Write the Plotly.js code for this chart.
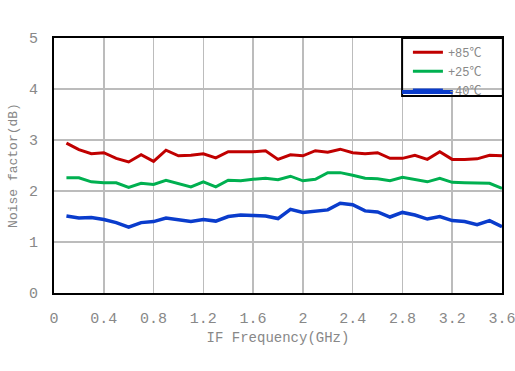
<!DOCTYPE html>
<html>
<head>
<meta charset="utf-8">
<script src="https://cdn.plot.ly/plotly-3.0.1.min.js"></script>
<style>
  html, body { margin: 0; padding: 0; background: #fff; }
  #chart { width: 515px; height: 371px; }
</style>
</head>
<body>
<div id="chart"></div>
<script>
// IF frequency sweep points (GHz)
const freqGHz = [0.1, 0.2, 0.3, 0.4, 0.5, 0.6, 0.7, 0.8, 0.9, 1.0, 1.1, 1.2,
                 1.3, 1.4, 1.5, 1.6, 1.7, 1.8, 1.9, 2.0, 2.1, 2.2, 2.3, 2.4,
                 2.5, 2.6, 2.7, 2.8, 2.9, 3.0, 3.1, 3.2, 3.3, 3.4, 3.5, 3.6];

// Noise factor (dB) at each temperature
const nf85 = [2.94, 2.81, 2.73, 2.75, 2.64, 2.57, 2.71, 2.58, 2.80, 2.69, 2.70, 2.73,
              2.65, 2.77, 2.77, 2.77, 2.79, 2.62, 2.71, 2.69, 2.79, 2.76, 2.82, 2.75,
              2.73, 2.75, 2.64, 2.64, 2.70, 2.62, 2.77, 2.62, 2.62, 2.63, 2.70, 2.69];
const nf25 = [2.26, 2.26, 2.18, 2.16, 2.16, 2.07, 2.15, 2.13, 2.21, 2.15, 2.08, 2.18,
              2.08, 2.21, 2.20, 2.23, 2.25, 2.22, 2.29, 2.20, 2.23, 2.36, 2.36, 2.31,
              2.25, 2.24, 2.20, 2.27, 2.22, 2.18, 2.25, 2.17, 2.16, 2.16, 2.15, 2.05];
const nfM40 = [1.51, 1.47, 1.48, 1.44, 1.38, 1.29, 1.38, 1.40, 1.47, 1.44, 1.40, 1.44,
               1.41, 1.50, 1.53, 1.52, 1.51, 1.46, 1.64, 1.58, 1.60, 1.63, 1.76, 1.73,
               1.61, 1.59, 1.49, 1.58, 1.53, 1.45, 1.50, 1.42, 1.40, 1.34, 1.42, 1.30];

const seriesNames = ['+85℃', '+25℃', '-40℃'];
const xTicks = [0, 0.4, 0.8, 1.2, 1.6, 2, 2.4, 2.8, 3.2, 3.6];
const yTicks = [0, 1, 2, 3, 4, 5];

const FONT = '"Liberation Mono", "Noto Sans CJK SC", monospace';
const GREY = '#888888';
const COLORS = ['#c00000', '#00b050', '#0a3ccc'];

const traces = [
  { x: freqGHz, y: nf85, name: seriesNames[0], mode: 'lines',
    line: { color: COLORS[0], width: 3 } },
  { x: freqGHz, y: nf25, name: seriesNames[1], mode: 'lines',
    line: { color: COLORS[1], width: 3 } },
  { x: freqGHz, y: nfM40, name: seriesNames[2], mode: 'lines',
    line: { color: COLORS[2], width: 3.5 } }
];

const axisCommon = {
  showline: true, linecolor: '#000', linewidth: 2, mirror: true,
  showgrid: true, gridcolor: '#bcbcbc', gridwidth: 1.5,
  zeroline: false, ticks: '', ticklabeloverflow: 'allow',
  tickfont: { family: FONT, size: 15, color: GREY }
};

// legend frame in paper units (plot area spans 0..1)
const LEG_X0 = 0.777, LEG_Y_BOTTOM = 0.773, LEG_Y_FILL = 0.804;

const layout = {
  width: 515, height: 371,
  margin: { l: 54, r: 13, t: 38, b: 78 },
  paper_bgcolor: '#fff', plot_bgcolor: '#fff',
  font: { family: FONT, color: GREY },
  showlegend: true,
  xaxis: Object.assign({}, axisCommon, {
    range: [0, 3.6], tickvals: xTicks, ticklabelstandoff: 10,
    title: { text: 'IF Frequency(GHz)', font: { family: FONT, size: 14, color: GREY }, standoff: 5 }
  }),
  yaxis: Object.assign({}, axisCommon, {
    range: [0, 5], tickvals: yTicks, ticklabelstandoff: 11,
    title: { text: 'Noise factor(dB)', font: { family: FONT, size: 13, color: GREY }, standoff: 8 }
  }),
  legend: {
    x: 0.79, y: 1.001, xanchor: 'left', yanchor: 'top',
    bgcolor: 'rgba(0,0,0,0)', borderwidth: 0,
    font: { family: FONT, size: 12, color: GREY },
    itemwidth: 30, tracegroupgap: 0
  },
  shapes: [
    // white backing behind the upper part of the legend
    { type: 'rect', xref: 'paper', yref: 'paper', layer: 'above',
      x0: LEG_X0, x1: 1, y0: LEG_Y_FILL, y1: 1,
      fillcolor: '#fff', line: { width: 0 } },
    // legend frame
    { type: 'rect', xref: 'paper', yref: 'paper', layer: 'above',
      x0: LEG_X0, x1: 1.002, y0: LEG_Y_BOTTOM, y1: 1,
      fillcolor: 'rgba(0,0,0,0)', line: { color: '#000', width: 2 } },
    // long key stroke of the -40℃ entry
    { type: 'line', xref: 'paper', yref: 'paper', layer: 'above',
      x0: LEG_X0, x1: 0.89, y0: 0.788, y1: 0.788,
      line: { color: COLORS[2], width: 4 } }
  ]
};

Plotly.newPlot('chart', traces, layout, { displayModeBar: false, staticPlot: true });
</script>
</body>
</html>
